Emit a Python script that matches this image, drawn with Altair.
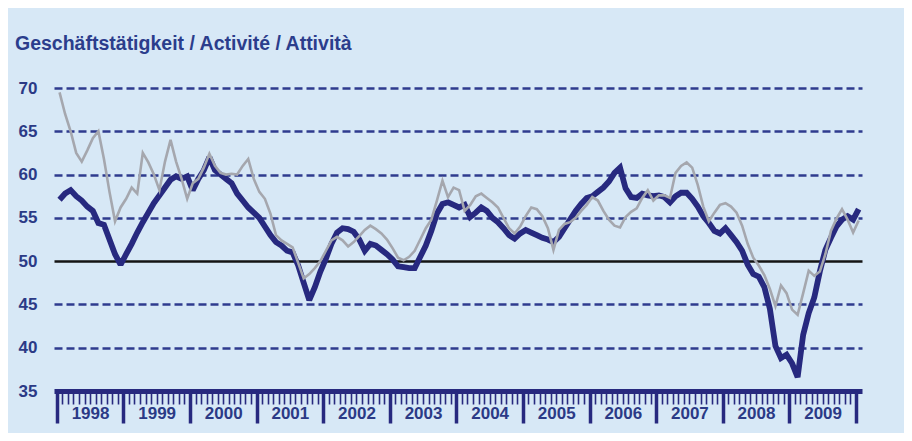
import altair as alt
import pandas as pd

start_year = 1998
year_labels = [str(y) for y in range(1998, 2010)]

# dark navy series (monthly, Jan 1998 - Jan 2010)
dark = [57.1, 57.8, 58.2, 57.5, 57.0, 56.3, 55.8, 54.4, 54.2, 52.5, 50.8, 49.6,
        50.8, 52.0, 53.3, 54.5, 55.6, 56.7, 57.6, 58.5, 59.4, 59.8, 59.5, 59.8,
        58.2, 59.5, 60.5, 62.0, 60.5, 60.0, 59.5, 59.0, 57.8, 57.0, 56.2, 55.6,
        55.0, 54.0, 53.0, 52.2, 51.8, 51.2, 51.0, 49.5, 47.5, 45.5, 47.0, 48.8,
        50.3, 52.0, 53.3, 53.8, 53.7, 53.4, 52.5, 51.2, 52.0, 51.8, 51.3, 50.8,
        50.2, 49.4, 49.3, 49.2, 49.2, 50.5, 51.8, 53.5, 55.5, 56.6, 56.8, 56.5,
        56.2, 56.5, 55.1, 55.6, 56.2, 55.8, 55.0, 54.5, 53.8, 53.0, 52.6, 53.2,
        53.6, 53.3, 53.0, 52.7, 52.5, 52.2, 52.8, 53.8, 54.8, 55.8, 56.6, 57.3,
        57.5, 58.0, 58.5, 59.2, 60.2, 60.8, 58.4, 57.4, 57.3, 57.8, 57.6, 57.5,
        57.6, 57.4, 56.8, 57.5, 57.9, 57.9, 57.2, 56.3, 55.2, 54.4, 53.5, 53.2,
        53.8, 53.0, 52.2, 51.2, 49.6, 48.5, 48.2, 47.0, 44.5, 40.2, 38.8, 39.2,
        38.2, 36.6, 41.5, 44.0, 45.8, 48.8, 51.3, 52.7, 54.0, 54.8, 55.2, 54.8,
        56.0]

# light grey series
grey = [69.5, 67.0, 65.0, 62.5, 61.5, 62.8, 64.2, 65.0, 61.8, 58.0, 54.6, 56.2,
        57.2, 58.5, 57.8, 62.5, 61.4, 60.0, 58.2, 61.5, 64.0, 61.5, 59.5, 57.2,
        59.0, 59.5, 60.8, 62.4, 61.0, 60.2, 60.0, 60.1, 60.0, 61.0, 61.8, 59.5,
        58.0, 57.2, 55.5, 53.0, 52.4, 52.0, 51.6, 49.8, 48.0, 48.5, 49.2, 50.0,
        51.2, 52.4, 52.8, 52.4, 51.7, 52.2, 52.9, 53.6, 54.1, 53.7, 53.2, 52.5,
        51.5, 50.4, 50.1, 50.5, 51.2, 52.5, 53.8, 54.8, 57.0, 59.3, 57.4, 58.5,
        58.2, 55.8, 56.5, 57.5, 57.8, 57.3, 56.8, 56.2, 55.0, 53.8, 53.2, 54.0,
        55.2, 56.2, 56.0, 55.2, 53.8, 51.3, 53.6, 54.3, 54.5, 55.0, 55.8, 56.5,
        57.4, 57.0, 55.8, 54.8, 54.1, 53.9, 55.1, 55.7, 56.1, 57.3, 58.2, 57.0,
        57.6, 57.6, 57.3, 60.2, 61.0, 61.4, 60.8, 58.8, 56.3, 54.6, 55.6, 56.5,
        56.7, 56.3, 55.6, 54.1, 52.0, 50.4, 49.5, 48.4, 46.8, 44.8, 47.2, 46.3,
        44.4, 43.8, 46.3, 48.9, 48.3, 48.8, 50.8, 53.5, 54.9, 56.0, 54.8, 53.3,
        54.7]

y_ticks = [35, 40, 45, 50, 55, 60, 65, 70]

n = len(dark)
df = pd.DataFrame({
    "month": [i + 0.5 for i in range(n)],
    "dark": dark,
    "grey": grey,
})

NAVY = "#27297f"
LABEL = "#2b3a86"
FONT = "Liberation Sans"

xscale = alt.Scale(domain=[-0.5, 145.1], nice=False, zero=False)

yenc = alt.Y(
    "value:Q",
    scale=alt.Scale(domain=[35, 70], nice=False, zero=False),
    axis=alt.Axis(
        values=y_ticks, title=None, ticks=False, tickSize=0, domain=False,
        labelPadding=17, labelFontSize=17, labelFont=FONT, labelColor=LABEL,
        labelFontWeight="bold",
        gridColor={"condition": {"test": "datum.value === 50", "value": "#141414"}, "value": "#2f3b8e"},
        gridDash={"condition": {"test": "datum.value === 50", "value": [1, 0]}, "value": [8, 4]},
        gridOpacity={"condition": {"test": "datum.value === 35", "value": 0}, "value": 1},
        gridWidth=2.5,
    ),
)

minor_axis = alt.Axis(
    values=list(range(0, 145)), labels=False, title=None, orient="bottom",
    tickSize=13, tickWidth=1.6, tickColor=NAVY, domain=True, domainColor=NAVY,
    domainWidth=5, grid=False,
)
major_axis = alt.Axis(
    values=list(range(0, 145, 12)), labels=False, title=None, orient="bottom",
    tickSize=32, tickWidth=3.5, tickColor=NAVY, domain=False, grid=False,
)
label_axis = alt.Axis(
    values=[12 * k + 6 for k in range(len(year_labels))], title=None, orient="bottom",
    ticks=False, tickSize=0, domain=False, grid=False,
    labelExpr=f"'' + ({start_year} + floor(datum.value / 12))",
    labelPadding=14, labelBaseline="top", labelFontSize=17, labelFont=FONT,
    labelColor=LABEL, labelFontWeight="bold",
)

base = alt.Chart(df)

dark_line = base.transform_fold(["dark"], as_=["series", "value"]).mark_line(
    color=NAVY, strokeWidth=5.8, strokeJoin="miter", strokeMiterLimit=2
).encode(x=alt.X("month:Q", scale=xscale, axis=minor_axis), y=yenc)

grey_line = base.transform_fold(["grey"], as_=["series", "value"]).mark_line(
    color="#a5a7ae", strokeWidth=2.6
).encode(x=alt.X("month:Q", scale=xscale, axis=major_axis), y=yenc)

label_layer = base.transform_fold(["dark"], as_=["series", "value"]).mark_line(
    opacity=0
).encode(x=alt.X("month:Q", scale=xscale, axis=label_axis), y=yenc)

chart = alt.layer(dark_line, grey_line, label_layer).resolve_axis(
    x="independent"
).properties(
    width=808,
    height=303,
    autosize=alt.AutoSizeParams(type="none"),
    padding={"left": 46, "top": 80, "right": 42, "bottom": 42},
    background="#d7e8f6",
    title=alt.TitleParams(
        text="Geschäftstätigkeit / Activité / Attività",
        anchor="start", frame="group", dx=-39, offset=10,
        baseline="alphabetic",
        fontSize=19.5, font=FONT, fontWeight="bold", color="#2b3d8c",
    ),
).configure_view(stroke=None)

chart.save("out.html", embed_options={"renderer": "svg", "actions": False})
